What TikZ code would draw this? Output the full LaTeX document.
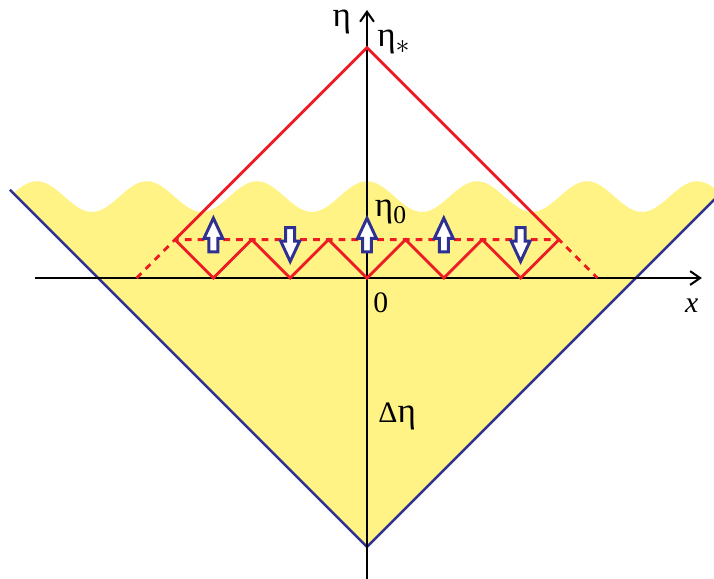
\documentclass[tikz,border=0pt]{standalone}
\usepackage{fontspec}
\setmainfont{Liberation Serif}
\usetikzlibrary{arrows.meta, shapes.arrows}

\definecolor{sandy}{HTML}{FFF385}
\definecolor{redline}{HTML}{ED1C24}
\definecolor{navy}{HTML}{2E3192}

\newcommand{\bigeta}{{\fontsize{26}{30}\selectfont η}}

\begin{document}
\begin{tikzpicture}[
    lbl/.style={font=\fontsize{22}{26}\selectfont, inner sep=0pt, anchor=base west},
    axis/.style={-{Straight Barb[length=2.6mm, width=3.6mm]}, line width=1.5pt},
    cone/.style={navy, line width=1.9pt},
    redl/.style={redline, line width=2.1pt},
    dashl/.style={redl, dash pattern=on 5pt off 4.5pt},
    arrbox/.style={
        single arrow, draw=navy, fill=white, line width=2.2pt,
        minimum height=0.88cm, inner sep=0.078cm,
        single arrow head extend=0.13cm, single arrow tip angle=50,
        anchor=tail
    },
    uparr/.style={arrbox, rotate=90},
    downarr/.style={arrbox, rotate=-90},
]

\useasboundingbox (-9.557,-7.8125) rectangle (9.036,7.24);
\clip (-9.557,-7.8125) rectangle (9.036,7.24);

\coordinate (bot) at (0,-7);
\coordinate (top) at (0,6);
\coordinate (lc)  at (-5,1);
\coordinate (rc)  at (5,1);
\coordinate (vl)  at (-9.3,2.3);
\coordinate (vr)  at (9.3,2.3);

% yellow region under the wavy edge
\fill[sandy] (bot) -- (-9.21,2.21)
    -- plot[domain=-9.21:9.1, samples=160, smooth] (\x,{2.12+0.4*cos(360*\x/2.865)})
    -- (9.1,2.1) -- cycle;

\draw[cone] (vl) -- (bot) -- (vr);

\coordinate (xl) at (-8.65,0);
\coordinate (xr) at (8.72,0);
\coordinate (yb) at (0,-7.9);
\coordinate (yt) at (0,6.98);
\draw[axis] (xl) -- (xr);
\draw[axis] (yb) -- (yt);

\draw[redl] (lc) -- (top) -- (rc);
\draw[redl] (lc) \foreach \i in {-4,...,5} {-- (\i,{mod(abs(\i),2)})};
\draw[dashl] (-6,0) -- (lc) -- (rc) -- (6,0);

\node[uparr]   (a1) at (-4,0.64) {};
\node[downarr] (a2) at (-2,1.35) {};
\node[uparr]   (a3) at (0,0.64)  {};
\node[uparr]   (a4) at (2,0.64)  {};
\node[downarr] (a5) at (4,1.35)  {};

\node[lbl] (etalbl)  at (-0.9,6.56) {\bigeta};
\node[lbl] (etastar) at (0.26,6.02)  {\bigeta\raisebox{-0.5ex}{$\ast$}};
\node[lbl] (etazero) at (0.2,1.6)  {\bigeta\raisebox{-0.5ex}{\fontsize{19}{22}\selectfont 0}};
\node[lbl] (zero)    at (0.16,-0.91) {0};
\node[lbl] (xlbl)    at (8.28,-0.91) {\textit{x}};
\node[lbl] (deta)    at (0.29,-3.75) {Δ\bigeta};

\end{tikzpicture}
\end{document}
